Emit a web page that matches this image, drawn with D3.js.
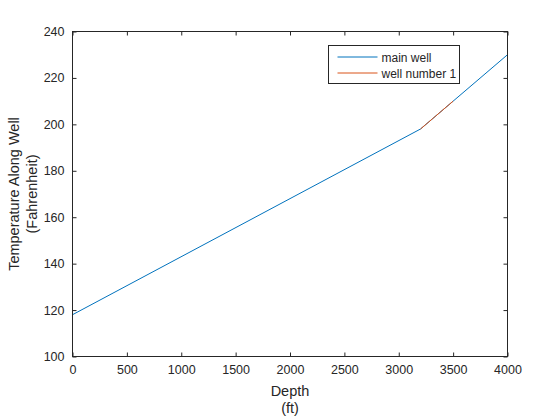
<!DOCTYPE html>
<html>
<head>
<meta charset="utf-8">
<script src="https://cdn.jsdelivr.net/npm/d3@7"></script>
<style>
body { margin: 0; background: #fff; }
text { font-family: "Liberation Sans", Arial, sans-serif; fill: #262626; }
</style>
</head>
<body>
<svg id="chart" width="560" height="420"></svg>
<script>
// data
var mainDepth = [0, 3200, 4000];
var mainTemp = [118, 198, 230];
var well1Depth = [3200, 3500];
var well1Temp = [198, 210];
var xTicks = [0, 500, 1000, 1500, 2000, 2500, 3000, 3500, 4000];
var yTicks = [100, 120, 140, 160, 180, 200, 220, 240];
var seriesNames = ["main well", "well number 1"];
var seriesColors = ["#0072BD", "#D95319"];

(function(){
var pLeft = 72.5, pRight = 507.5, pTop = 31.5, pBottom = 356.5;

var svg = d3.select("#chart");
svg.append("rect").attr("width", 560).attr("height", 420).attr("fill", "#fff");

var x = d3.scaleLinear().domain([0, 4000]).range([pLeft, pRight]);
var y = d3.scaleLinear().domain([100, 240]).range([pBottom, pTop]);

var line = d3.line()
    .x(function(d){ return x(d[0]); })
    .y(function(d){ return y(d[1]); });

var mainData = mainDepth.map(function(d, i){ return [d, mainTemp[i]]; });
var well1Data = well1Depth.map(function(d, i){ return [d, well1Temp[i]]; });

svg.append("path").datum(mainData)
    .attr("d", line).attr("fill", "none")
    .attr("stroke", seriesColors[0]).attr("stroke-width", 1);
svg.append("path").datum(well1Data)
    .attr("d", line).attr("fill", "none")
    .attr("stroke", seriesColors[1]).attr("stroke-width", 1);

// axes, ticks inward, box on
function styleAxis(g) {
    g.select(".domain").remove();
    g.selectAll(".tick line").attr("stroke", "#262626");
    g.selectAll(".tick text").style("font-size", "12.5px").attr("fill", "#262626")
        .style("font-family", "Liberation Sans, Arial, sans-serif");
}

svg.append("g").attr("transform", "translate(0," + pBottom + ")")
    .call(d3.axisBottom(x).tickValues(xTicks).tickSize(-4).tickPadding(9).tickFormat(d3.format("d")))
    .call(styleAxis);
svg.append("g").attr("transform", "translate(0," + pTop + ")")
    .call(d3.axisTop(x).tickValues(xTicks).tickSize(-4).tickFormat(""))
    .call(styleAxis);
svg.append("g").attr("transform", "translate(" + pLeft + ",0)")
    .call(d3.axisLeft(y).tickValues(yTicks).tickSize(-4).tickPadding(8).tickFormat(d3.format("d")))
    .call(styleAxis);
svg.append("g").attr("transform", "translate(" + pRight + ",0)")
    .call(d3.axisRight(y).tickValues(yTicks).tickSize(-4).tickFormat(""))
    .call(styleAxis);

svg.append("rect")
    .attr("x", pLeft).attr("y", pTop)
    .attr("width", pRight - pLeft).attr("height", pBottom - pTop)
    .attr("fill", "none").attr("stroke", "#262626").attr("stroke-width", 1);

// axis labels
svg.append("text").attr("x", (pLeft + pRight) / 2).attr("y", 396)
    .attr("text-anchor", "middle").style("font-size", "14.5px").text("Depth");
svg.append("text").attr("x", (pLeft + pRight) / 2).attr("y", 413)
    .attr("text-anchor", "middle").style("font-size", "14.5px").text("(ft)");

var yl = svg.append("g").attr("transform", "translate(0," + ((pTop + pBottom) / 2) + ") rotate(-90)");
yl.append("text").attr("x", 0).attr("y", 19)
    .attr("text-anchor", "middle").style("font-size", "14.5px").text("Temperature Along Well");
yl.append("text").attr("x", 0).attr("y", 37)
    .attr("text-anchor", "middle").style("font-size", "14.5px").text("(Fahrenheit)");

// legend
var leg = svg.append("g").attr("transform", "translate(328.5,45.5)");
leg.append("rect").attr("width", 131).attr("height", 38)
    .attr("fill", "#fff").attr("stroke", "#262626").attr("stroke-width", 1);
seriesNames.forEach(function(name, i){
    var yy = 11.5 + i * 16;
    leg.append("line").attr("x1", 9).attr("x2", 49).attr("y1", yy).attr("y2", yy)
        .attr("stroke", seriesColors[i]).attr("stroke-width", 1);
    leg.append("text").attr("x", 53).attr("y", yy + 4.5)
        .style("font-size", "12px").text(name);
});
})();
</script>
</body>
</html>
